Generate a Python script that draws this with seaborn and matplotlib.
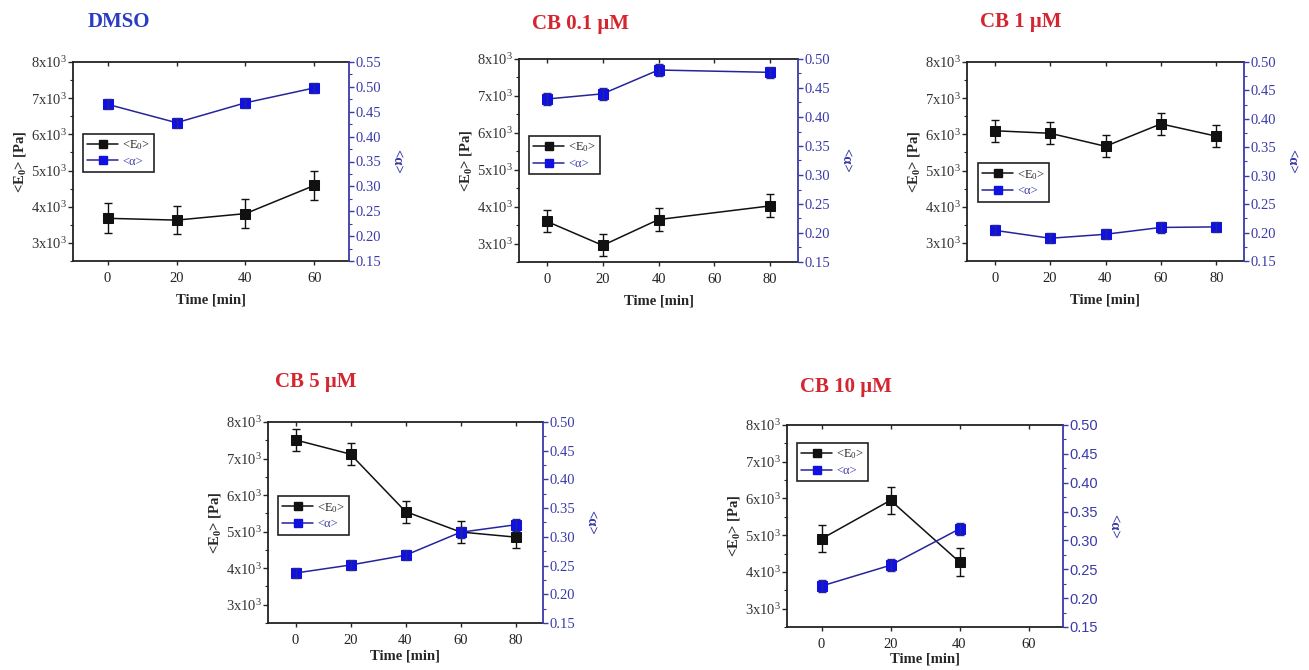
import numpy as np
import pandas as pd
import matplotlib
matplotlib.use("Agg")
import matplotlib.pyplot as plt
import seaborn as sns
from matplotlib.lines import Line2D
from matplotlib.ticker import MultipleLocator

# ---------------- data ----------------
titles = ["DMSO", "CB 0.1 \u03bcM", "CB 1 \u03bcM", "CB 5 \u03bcM", "CB 10 \u03bcM"]

time_dmso = [0, 20, 40, 60]
e0_dmso = [3680, 3630, 3810, 4590]
e0_err_dmso = [410, 390, 400, 400]
alpha_dmso = [0.465, 0.428, 0.468, 0.498]
alpha_err_dmso = [0.010, 0.010, 0.010, 0.010]

time_cb01 = [0, 20, 40, 80]
e0_cb01 = [3600, 2950, 3650, 4020]
e0_err_cb01 = [300, 300, 300, 310]
alpha_cb01 = [0.431, 0.440, 0.481, 0.477]
alpha_err_cb01 = [0.010, 0.010, 0.010, 0.010]

time_cb1 = [0, 20, 40, 60, 80]
e0_cb1 = [6100, 6030, 5670, 6290, 5950]
e0_err_cb1 = [300, 310, 300, 300, 300]
alpha_cb1 = [0.204, 0.190, 0.197, 0.209, 0.210]
alpha_err_cb1 = [0.009, 0.009, 0.009, 0.009, 0.009]

time_cb5 = [0, 20, 40, 60, 80]
e0_cb5 = [7510, 7120, 5550, 4990, 4850]
e0_err_cb5 = [300, 300, 300, 300, 300]
alpha_cb5 = [0.237, 0.251, 0.268, 0.308, 0.321]
alpha_err_cb5 = [0.009, 0.009, 0.009, 0.010, 0.010]

time_cb10 = [0, 20, 40]
e0_cb10 = [4900, 5950, 4270]
e0_err_cb10 = [370, 370, 380]
alpha_cb10 = [0.221, 0.257, 0.320]
alpha_err_cb10 = [0.010, 0.010, 0.010]

panels = [
    dict(t=time_dmso, e=e0_dmso, ee=e0_err_dmso, a=alpha_dmso, ae=alpha_err_dmso,
         xticks=[0, 20, 40, 60], xlim=(-10, 70), alim=(0.15, 0.55),
         pos=[73, 349, 62, 261], title_xy=(88, 22), tcol="#2a3cc4",
         leg=(0.035, 0.64), sans_right=False, xpad=6),
    dict(t=time_cb01, e=e0_cb01, ee=e0_err_cb01, a=alpha_cb01, ae=alpha_err_cb01,
         xticks=[0, 20, 40, 60, 80], xlim=(-10, 90), alim=(0.15, 0.50),
         pos=[519, 798, 59, 262], title_xy=(532, 24), tcol="#d42630",
         leg=(0.035, 0.62), sans_right=False, xpad=6),
    dict(t=time_cb1, e=e0_cb1, ee=e0_err_cb1, a=alpha_cb1, ae=alpha_err_cb1,
         xticks=[0, 20, 40, 60, 80], xlim=(-10, 90), alim=(0.15, 0.50),
         pos=[967, 1244, 62, 261], title_xy=(980, 22), tcol="#d42630",
         leg=(0.038, 0.49), sans_right=False, xpad=6),
    dict(t=time_cb5, e=e0_cb5, ee=e0_err_cb5, a=alpha_cb5, ae=alpha_err_cb5,
         xticks=[0, 20, 40, 60, 80], xlim=(-10, 90), alim=(0.15, 0.50),
         pos=[268, 543, 422, 623], title_xy=(275, 382), tcol="#d42630",
         leg=(0.035, 0.63), sans_right=False, xpad=2),
    dict(t=time_cb10, e=e0_cb10, ee=e0_err_cb10, a=alpha_cb10, ae=alpha_err_cb10,
         xticks=[0, 20, 40, 60], xlim=(-10, 70), alim=(0.15, 0.50),
         pos=[787, 1063, 425, 627], title_xy=(800, 387), tcol="#d42630",
         leg=(0.035, 0.91), sans_right=True, xpad=1),
]

# ---------------- style ----------------
sns.set_theme(style="ticks")
serif = ["Liberation Serif", "DejaVu Serif"]
plt.rcParams["font.family"] = serif
plt.rcParams["mathtext.fontset"] = "custom"
plt.rcParams["mathtext.rm"] = "Liberation Serif"
plt.rcParams["mathtext.it"] = "Liberation Serif:italic"
plt.rcParams["mathtext.bf"] = "Liberation Serif:bold"

W, H = 1309, 670
fig = plt.figure(figsize=(W / 100, H / 100), dpi=100)
fig.patch.set_facecolor("white")

BLACK = "#111111"
BLUE_MK = "#1010e0"
BLUE_LN = "#25259a"
BLUE_AX = "#3a3aa8"

e0_ticks = [3000, 4000, 5000, 6000, 7000, 8000]
e0_labels = [r"$%d\mathrm{x}10^3$" % (v // 1000) for v in e0_ticks]

for p, title in zip(panels, titles):
    l, r, t, b = p["pos"]
    ax = fig.add_axes([l / W, (H - b) / H, (r - l) / W, (b - t) / H])
    ax2 = ax.twinx()

    df_e = pd.DataFrame({"time": p["t"], "val": p["e"]})
    df_a = pd.DataFrame({"time": p["t"], "val": p["a"]})

    sns.lineplot(data=df_e, x="time", y="val", ax=ax, color=BLACK, lw=1.1,
                 marker="s", markersize=6.5, markeredgecolor=BLACK, markerfacecolor=BLACK,
                 legend=False, zorder=3)
    ax.errorbar(p["t"], p["e"], yerr=p["ee"], fmt="none", ecolor=BLACK,
                elinewidth=1.0, capsize=3, capthick=1.0, zorder=3)

    sns.lineplot(data=df_a, x="time", y="val", ax=ax2, color=BLUE_LN, lw=1.1,
                 marker="s", markersize=6.5, markeredgecolor=BLUE_MK, markerfacecolor=BLUE_MK,
                 legend=False, zorder=3)
    ax2.errorbar(p["t"], p["a"], yerr=p["ae"], fmt="none", ecolor=BLUE_LN,
                 elinewidth=1.0, capsize=3, capthick=1.0, zorder=3)

    ax.set_xlim(*p["xlim"])
    ax.set_ylim(2500, 8000)
    ax2.set_ylim(*p["alim"])
    ax.set_xticks(p["xticks"])
    ax.set_xticklabels([str(v) for v in p["xticks"]], fontsize=10.5, color="#222222")
    ax.set_yticks(e0_ticks)
    ax.set_yticklabels(e0_labels, fontsize=10.5, color="#333333")
    ax.yaxis.set_minor_locator(MultipleLocator(500))
    ax.tick_params(axis="y", which="major", length=3.5, width=1, direction="out", pad=1)
    ax.tick_params(axis="y", which="minor", length=2, width=0.8, direction="out")
    ax.tick_params(axis="x", which="major", length=3, width=1, direction="out", pad=5,
                   top=False)

    aticks = np.round(np.arange(p["alim"][0], p["alim"][1] + 1e-6, 0.05), 2)
    ax2.set_yticks(aticks)
    rfam = ["Liberation Sans", "DejaVu Sans"] if p["sans_right"] else serif
    ax2.set_yticklabels(["%.2f" % v for v in aticks], fontsize=10.5, color=BLUE_AX,
                        family=rfam)
    ax2.yaxis.set_minor_locator(MultipleLocator(0.025))
    ax2.tick_params(axis="y", which="major", length=3.5, width=1, direction="out",
                    color=BLUE_AX, pad=1)
    ax2.tick_params(axis="y", which="minor", length=2, width=0.8, direction="out",
                    color=BLUE_AX)

    # top ticks pointing inward
    sec = ax.secondary_xaxis("top")
    sec.set_xticks(p["xticks"])
    sec.tick_params(axis="x", direction="in", length=3, width=1, labeltop=False)
    sec.spines["top"].set_visible(False)

    for sp in ["left", "bottom", "top"]:
        ax.spines[sp].set_linewidth(1.3)
        ax.spines[sp].set_color("#222222")
    for sp in ["left", "bottom", "top"]:
        ax2.spines[sp].set_visible(False)
    ax2.spines["right"].set_color(BLUE_AX)
    ax2.spines["right"].set_linewidth(1.3)
    ax.spines["right"].set_visible(False)

    ax.set_xlabel("Time [min]", fontsize=10.5, fontweight="bold", labelpad=p["xpad"])
    ax.set_ylabel(r"<E$_\mathbf{0}$> [Pa]", fontsize=10.5, fontweight="bold", labelpad=2)
    ax2.set_ylabel("<\u03b1>", fontsize=10.5, fontweight="bold", color=BLUE_AX,
                   rotation=270, labelpad=16)
    ax.grid(False)
    ax2.grid(False)

    handles = [
        Line2D([], [], color=BLACK, lw=1.1, marker="s", markersize=5.5,
               markerfacecolor=BLACK, markeredgecolor=BLACK),
        Line2D([], [], color=BLUE_LN, lw=1.1, marker="s", markersize=5.5,
               markerfacecolor=BLUE_MK, markeredgecolor=BLUE_MK),
    ]
    leg = ax2.legend(handles, [r"<E$_0$>", "<\u03b1>"], loc="upper left",
                     bbox_to_anchor=p["leg"], frameon=True, fancybox=False,
                     framealpha=1, edgecolor="#222222", fontsize=9,
                     handlelength=2.5, handletextpad=0.3, borderpad=0.35,
                     labelspacing=0.3, borderaxespad=0)
    leg.get_frame().set_linewidth(1.2)
    leg.get_texts()[1].set_color(BLUE_AX)

    fig.text(p["title_xy"][0] / W, 1 - p["title_xy"][1] / H, title,
             fontsize=15, fontweight="bold", color=p["tcol"], ha="left", va="center")

fig.savefig("out.png", dpi=100, facecolor="white")
